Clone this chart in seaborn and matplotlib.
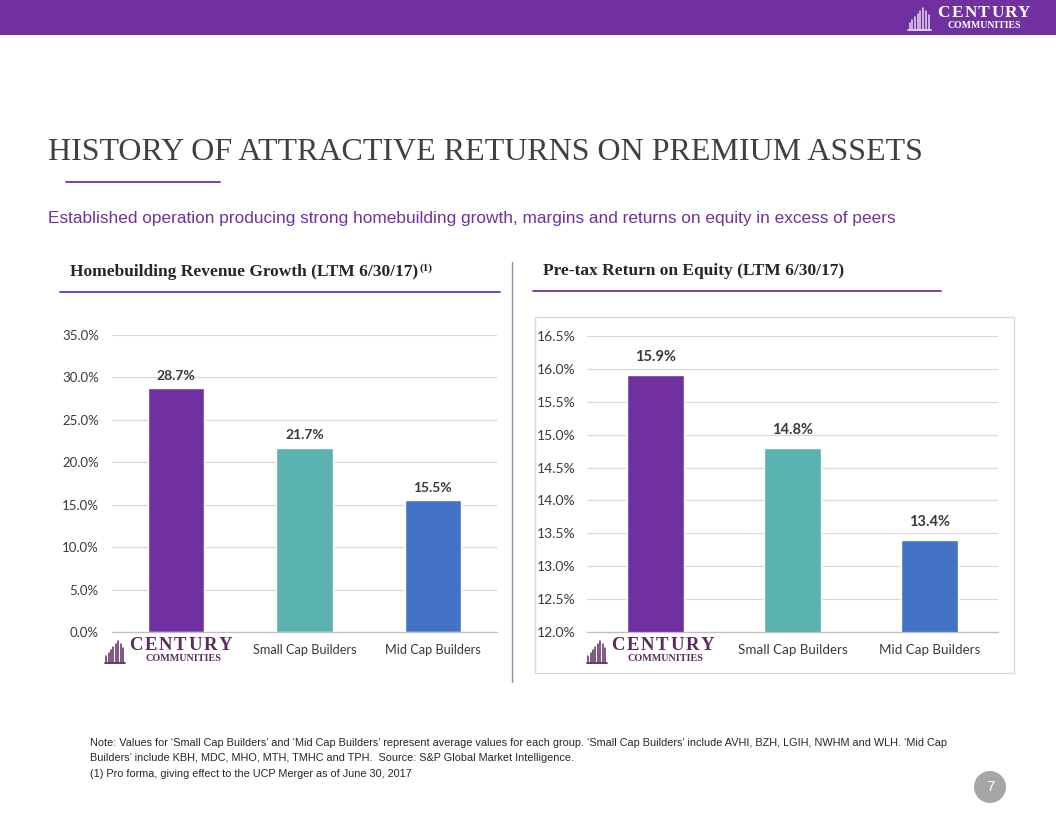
import matplotlib
matplotlib.use("Agg")
import matplotlib.pyplot as plt
import matplotlib.patches as mpatches
from matplotlib.lines import Line2D
import seaborn as sns
import pandas as pd

# ---------------- data ----------------
categories = ["Century Communities", "Small Cap Builders", "Mid Cap Builders"]
tick_labels = ["", "Small Cap Builders", "Mid Cap Builders"]
revenue_growth = [28.7, 21.7, 15.5]
pretax_roe = [15.9, 14.8, 13.4]
bar_colors = ["#7030A0", "#5BB3AF", "#4472C4"]
left_ticks = [0, 5, 10, 15, 20, 25, 30, 35]
right_ticks = [12.0, 12.5, 13.0, 13.5, 14.0, 14.5, 15.0, 15.5, 16.0, 16.5]

W, H = 1056, 816
sns.set_theme(style="white")
plt.rcParams["font.family"] = ["Lato", "DejaVu Sans"]

fig = plt.figure(figsize=(W / 100, H / 100), dpi=100)
fig.patch.set_facecolor("white")


def fx(x):
    return x / W


def fy(y):
    return 1 - y / H


PURPLE = "#7030A0"
SERIF = ["Liberation Serif", "DejaVu Serif"]
TXT = "#3A3A3A"

# top banner
fig.patches.append(mpatches.Rectangle((0, fy(35)), 1, 35 / H, transform=fig.transFigure,
                                      facecolor=PURPLE, edgecolor="none", zorder=0))


def logo(x0, ytop, icon_w, word_x0, word_x1, word_fs, comm_x, comm_fs, color, text_color):
    # icon: vertical columns rising to a peak
    heights = [6, 9, 12, 15, 18, 21, 18, 14]
    step = icon_w / (len(heights) + 0.5)
    for i, h in enumerate(heights):
        xx = x0 + (0.6 + i) * step
        fig.add_artist(Line2D([fx(xx), fx(xx)], [fy(ytop + 24), fy(ytop + 24 - h)],
                              transform=fig.transFigure, color=color, lw=1.1))
    fig.add_artist(Line2D([fx(x0), fx(x0 + icon_w)], [fy(ytop + 24.5)] * 2,
                          transform=fig.transFigure, color=color, lw=1.3))
    word = "CENTURY"
    adv = (word_x1 - word_x0) / len(word)
    for i, ch in enumerate(word):
        fig.text(fx(word_x0 + (i + 0.5) * adv), fy(ytop + 8), ch, transform=fig.transFigure,
                 family=SERIF, fontsize=word_fs, color=text_color,
                 ha="center", va="center", fontweight="bold")
    fig.text(fx(comm_x), fy(ytop + 20.5), "COMMUNITIES", transform=fig.transFigure,
             family=SERIF, fontsize=comm_fs, color=text_color,
             ha="left", va="center", fontweight="bold")


logo(908, 5, 23, 937, 1031, 12.5, 948, 7.0, "#E6D8F0", "white")

# title
fig.text(fx(48), fy(152), "HISTORY OF ATTRACTIVE RETURNS ON PREMIUM ASSETS",
         family=SERIF, fontsize=23.0, color="#404040", ha="left", va="center")
fig.add_artist(Line2D([fx(66), fx(220)], [fy(182), fy(182)], transform=fig.transFigure,
                      color=PURPLE, lw=1.3))
fig.text(fx(48), fy(219), "Established operation producing strong homebuilding growth, margins and returns on equity in excess of peers",
         family=["Liberation Sans", "DejaVu Sans"], fontsize=12.45, color=PURPLE,
         ha="left", va="center")

# section headings
h1 = fig.text(fx(70), fy(272), "Homebuilding Revenue Growth (LTM 6/30/17)",
              family=SERIF, fontsize=12.5, fontweight="bold",
              color="#262626", ha="left", va="center")
fig.canvas.draw()
bb = h1.get_window_extent(renderer=fig.canvas.get_renderer())
fig.text(bb.x1 / W + 0.001, fy(268), "(1)", family=SERIF,
         fontsize=8, fontweight="bold", color="#262626", ha="left", va="center")
fig.add_artist(Line2D([fx(60), fx(500)], [fy(292), fy(292)], transform=fig.transFigure,
                      color=PURPLE, lw=1.3))
fig.text(fx(543), fy(271), "Pre-tax Return on Equity (LTM 6/30/17)",
         family=SERIF, fontsize=12.5, fontweight="bold",
         color="#262626", ha="left", va="center")
fig.add_artist(Line2D([fx(533), fx(941)], [fy(291), fy(291)], transform=fig.transFigure,
                      color=PURPLE, lw=1.3))
fig.add_artist(Line2D([fx(512), fx(512)], [fy(262), fy(682)], transform=fig.transFigure,
                      color="#8496AE", lw=1.0))

# right chart frame
fig.patches.append(mpatches.Rectangle((fx(535), fy(673)), (1014 - 535) / W, (673 - 317) / H,
                                      transform=fig.transFigure, facecolor="white",
                                      edgecolor="#D9D9D9", lw=1.0, zorder=0))


def style_axes(ax, ticks, lim, tick_fs, cat_fs, ypad):
    ax.set_ylim(*lim)
    ax.set_yticks(ticks)
    ax.set_yticklabels([f"{t:.1f}%" for t in ticks], fontsize=tick_fs, color=TXT)
    ax.set_xticks(range(len(categories)))
    ax.set_xticklabels(tick_labels, fontsize=cat_fs, color=TXT)
    ax.tick_params(axis="y", length=0, pad=ypad)
    ax.tick_params(axis="x", length=0, pad=9)
    ax.set_xlabel("")
    ax.set_ylabel("")
    ax.grid(axis="y", color="#D9D9D9", lw=0.9)
    ax.set_axisbelow(True)
    for sp in ["top", "right", "left"]:
        ax.spines[sp].set_visible(False)
    ax.spines["bottom"].set_color("#BFBFBF")
    ax.spines["bottom"].set_linewidth(0.9)
    ax.set_facecolor("none")
    ax.set_zorder(2)


# left chart
df1 = pd.DataFrame({"cat": categories, "val": revenue_growth})
ax1 = fig.add_axes([fx(112), fy(632), 385 / W, 297 / H])
sns.barplot(data=df1, x="cat", y="val", hue="cat", palette=bar_colors, legend=False,
            width=0.44, saturation=1, ax=ax1)
style_axes(ax1, left_ticks, (0, 35), 9.5, 9.2, 9.5)
for i, v in enumerate(revenue_growth):
    ax1.annotate(f"{v:.1f}%", (i, v), xytext=(0, 5), textcoords="offset points",
                 ha="center", va="bottom", fontsize=10, fontweight="bold", color=TXT)

# right chart
df2 = pd.DataFrame({"cat": categories, "val": pretax_roe})
ax2 = fig.add_axes([fx(587), fy(632), 411 / W, 296 / H])
sns.barplot(data=df2, x="cat", y="val", hue="cat", palette=bar_colors, legend=False,
            width=0.41, saturation=1, ax=ax2)
style_axes(ax2, right_ticks, (12.0, 16.5), 10, 9.6, 8.5)
for i, v in enumerate(pretax_roe):
    ax2.annotate(f"{v:.1f}%", (i, v), xytext=(0, 8), textcoords="offset points",
                 ha="center", va="bottom", fontsize=10.5, fontweight="bold", color=TXT)

# logos in the category position
logo(105, 638, 20, 128, 233, 13.5, 145, 7.3, "#5B2A5E", "#5B2A5E")
logo(587, 638, 20, 610, 715, 13.5, 627, 7.3, "#5B2A5E", "#5B2A5E")

# footnote
note = ("Note: Values for \u2018Small Cap Builders\u2019 and \u2018Mid Cap Builders\u2019 represent average values for each group. "
        "\u2018Small Cap Builders\u2019 include AVHI, BZH, LGIH, NWHM and WLH. \u2018Mid Cap\n"
        "Builders\u2019 include KBH, MDC, MHO, MTH, TMHC and TPH.  Source: S&P Global Market Intelligence.\n"
        "(1) Pro forma, giving effect to the UCP Merger as of June 30, 2017")
fig.text(fx(90), fy(738), note, family=["Liberation Sans", "DejaVu Sans"],
         fontsize=7.8, color="#262626", ha="left", va="top", linespacing=1.68)

# page number
fig.patches.append(mpatches.Ellipse((fx(990), fy(787)), 32 / W, 32 / H, transform=fig.transFigure,
                                    facecolor="#A6A6A6", edgecolor="none"))
fig.text(fx(990), fy(787), "7", family=["Liberation Sans", "DejaVu Sans"], fontsize=11,
         color="white", ha="center", va="center")

fig.savefig("out.png", dpi=100, facecolor="white")
